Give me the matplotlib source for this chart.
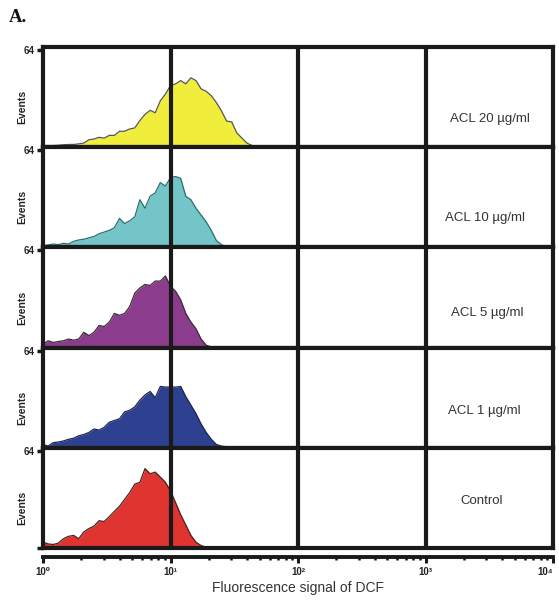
import matplotlib
matplotlib.use("Agg")
import matplotlib.pyplot as plt
import numpy as np
from matplotlib.ticker import LogLocator, NullFormatter

plt.rcParams['font.family'] = ['Liberation Sans', 'DejaVu Sans']

# ---- data ----
log_channel = [0.00, 0.04, 0.08, 0.12, 0.16, 0.20, 0.24, 0.28, 0.32, 0.36,
               0.40, 0.44, 0.48, 0.52, 0.56, 0.60, 0.64, 0.68, 0.72, 0.76,
               0.80, 0.84, 0.88, 0.92, 0.96, 1.00, 1.04, 1.08, 1.12, 1.16,
               1.20, 1.24, 1.28, 1.32, 1.36, 1.40, 1.44, 1.48, 1.52, 1.56,
               1.60, 1.64, 1.68, 1.72, 1.76, 1.80]

acl20 = [1.1, 1.1, 1.1, 1.3, 1.6, 1.8, 1.8, 2.2, 2.7, 4.9,
         5.4, 6.5, 6.0, 7.8, 7.8, 10.5, 10.5, 12.0, 12.7, 17.6,
         21.6, 24.3, 22.7, 30.5, 35.0, 40.6, 41.7, 43.9, 41.7, 45.7,
         43.9, 38.4, 36.8, 33.9, 29.4, 23.9, 17.2, 16.7, 9.4, 6.0,
         2.7, 1.1, 0.7, 0.4, 0.2, 0.0]
acl10 = [1.1, 1.6, 2.2, 1.8, 2.7, 2.2, 4.0, 4.9, 5.4, 6.3,
         7.2, 9.0, 10.1, 11.2, 13.0, 19.1, 15.7, 17.5, 20.2, 31.4,
         25.8, 33.7, 35.9, 42.7, 40.4, 46.0, 46.7, 45.4, 33.7, 31.4,
         25.8, 21.3, 16.8, 11.2, 4.5, 1.8, 0.4, 0.0, 0.0, 0.0,
         0.0, 0.0, 0.0, 0.0, 0.0, 0.0]
acl5 = [2.2, 4.5, 3.4, 4.0, 4.5, 5.6, 4.9, 5.6, 10.1, 7.9,
        10.1, 14.6, 13.9, 16.8, 22.5, 21.3, 22.5, 27.0, 35.9, 39.3,
        41.6, 40.9, 43.8, 43.8, 47.2, 40.4, 37.1, 31.4, 22.5, 16.8,
        12.4, 5.6, 1.6, 0.4, 0.0, 0.0, 0.0, 0.0, 0.0, 0.0,
        0.0, 0.0, 0.0, 0.0, 0.0, 0.0]
acl1 = [2.2, 1.1, 3.4, 3.8, 4.5, 5.6, 6.3, 7.9, 8.8, 10.1,
        12.4, 11.7, 13.5, 16.8, 18.0, 19.1, 23.6, 24.7, 27.0, 31.4,
        34.8, 37.1, 33.0, 40.4, 40.0, 40.0, 40.0, 40.4, 33.7, 28.1,
        22.5, 15.7, 10.1, 5.6, 2.2, 1.1, 0.7, 0.4, 0.3, 0.2,
        0.0, 0.0, 0.0, 0.0, 0.0, 0.0]
control = [3.8, 2.7, 2.3, 3.2, 6.1, 7.7, 8.3, 6.1, 10.6, 12.8,
           14.4, 18.0, 17.4, 20.7, 24.1, 27.5, 32.0, 36.5, 42.1, 43.3,
           52.3, 48.9, 50.0, 46.7, 43.3, 37.6, 29.8, 21.9, 15.1, 8.3,
           3.8, 1.6, 0.5, 0.0, 0.0, 0.0, 0.0, 0.0, 0.0, 0.0,
           0.0, 0.0, 0.0, 0.0, 0.0, 0.0]

sample_labels = ['ACL 20 µg/ml', 'ACL 10 µg/ml', 'ACL 5 µg/ml', 'ACL 1 µg/ml', 'Control']
series = [acl20, acl10, acl5, acl1, control]
fill_colors = ['#f1ed3b', '#74c5c8', '#8c3c8c', '#2e4190', '#df342f']
edge_colors = ['#555555', '#2b6e70', '#3a2a3a', '#1c2550', '#4a2020']
x_tick_labels = ['10⁰', '10¹', '10²', '10³', '10⁴']

# ---- layout (pixel based) ----
W, H = 559, 600
fig = plt.figure(figsize=(W / 100, H / 100), dpi=100)
left_px, right_px = 43, 553
top_px, panel_h = 47, 100.2
line_col = '#1b1a1a'

label_pos = [(490, 119), (485, 218), (487, 313), (484, 411), (482, 501)]

xs = 10 ** np.array(log_channel)
for i, (vals, fc, ec, lab) in enumerate(zip(series, fill_colors, edge_colors, sample_labels)):
    t = top_px + i * panel_h
    ax = fig.add_axes([left_px / W, 1 - (t + panel_h) / H, (right_px - left_px) / W, panel_h / H])
    ax.set_xscale('log')
    ax.set_xlim(1, 1e4)
    ax.set_ylim(0, 66)
    ax.fill_between(xs, vals, 0, color=fc, linewidth=0, zorder=1)
    ax.plot(xs, vals, color=ec, linewidth=0.9, zorder=1.5)
    for dec in [10, 100, 1000]:
        ax.axvline(dec, color=line_col, linewidth=3, zorder=3)
    for sp in ax.spines.values():
        sp.set_linewidth(3)
        sp.set_color(line_col)
        sp.set_zorder(4)
    ax.set_xticks([])
    ax.xaxis.set_minor_locator(plt.NullLocator())
    if i == 4:
        ax.set_yticks([0, 64])
        ax.set_yticklabels(['', '64'])
    else:
        ax.set_yticks([64])
        ax.set_yticklabels(['64'])
    ax.tick_params(axis='y', length=4, width=2.5, pad=2, labelsize=7, colors=line_col,
                   labelcolor='#222222')
    for tl in ax.get_yticklabels():
        tl.set_fontweight('bold')
    fig.text(22 / W, 1 - (t + panel_h / 2 + 10) / H, 'Events', rotation=90,
             ha='center', va='center', fontsize=7.5, fontweight='bold', color='#222222')
    lx, ly = label_pos[i]
    fig.text(lx / W, 1 - ly / H, lab, ha='center', va='center', fontsize=9.5, color='#333333')

# separate x axis
axx = fig.add_axes([left_px / W, 1 - 557 / H, (right_px - left_px) / W, 0.0001])
axx.set_xscale('log')
axx.set_xlim(1, 1e4)
axx.set_yticks([])
for s in ['top', 'left', 'right']:
    axx.spines[s].set_visible(False)
axx.spines['bottom'].set_linewidth(2.8)
axx.spines['bottom'].set_color(line_col)
axx.set_xticks([1, 10, 100, 1000, 10000])
axx.set_xticklabels(x_tick_labels)
axx.xaxis.set_minor_locator(LogLocator(base=10, subs=[2, 3, 4, 5, 6, 7, 8, 9], numticks=20))
axx.xaxis.set_minor_formatter(NullFormatter())
axx.tick_params(axis='x', which='major', length=4, width=2.2, pad=3, labelsize=7, colors=line_col,
                labelcolor='#222222')
axx.tick_params(axis='x', which='minor', length=2.5, width=1.8, colors=line_col)
xtl = axx.get_xticklabels()
for tl in xtl:
    tl.set_fontweight('bold')
xtl[-1].set_horizontalalignment('right')
xtl[-1].set_x(10000)

fig.text(298 / W, 1 - 588 / H, 'Fluorescence signal of DCF', ha='center', va='center',
         fontsize=10, color='#333333')
fig.text(9 / W, 1 - 17 / H, 'A.', ha='left', va='center', fontsize=13.5, fontweight='bold',
         family=['Liberation Serif', 'DejaVu Serif'], color='#111111')

fig.savefig('out.png', dpi=100)
